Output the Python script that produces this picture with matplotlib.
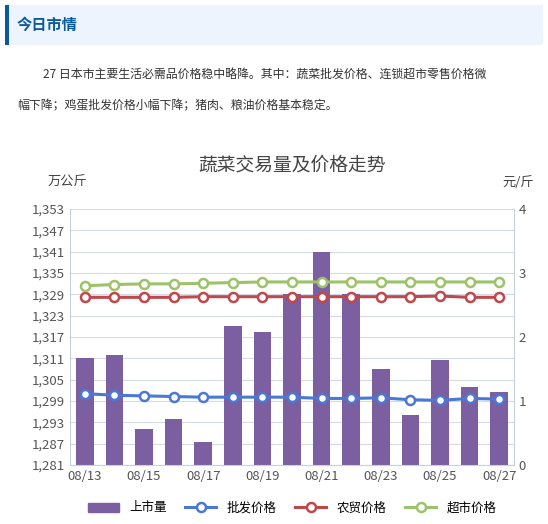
import numpy as np
import matplotlib.pyplot as plt
from matplotlib.patches import Rectangle

plt.rcParams['font.family'] = ['Noto Sans CJK SC', 'DejaVu Sans']

dates = ['08/13', '08/14', '08/15', '08/16', '08/17', '08/18', '08/19', '08/20',
         '08/21', '08/22', '08/23', '08/24', '08/25', '08/26', '08/27']
volume = [1311, 1312, 1291, 1294, 1287.5, 1320, 1318.5, 1329, 1341, 1329,
          1308, 1295, 1310.5, 1303, 1301.5]
wholesale = [1.115, 1.09, 1.08, 1.07, 1.06, 1.06, 1.06, 1.06, 1.04, 1.04,
             1.05, 1.02, 1.01, 1.04, 1.03]
farm = [2.62, 2.62, 2.62, 2.62, 2.63, 2.63, 2.63, 2.63, 2.63, 2.63,
        2.63, 2.63, 2.64, 2.62, 2.62]
market = [2.80, 2.82, 2.83, 2.83, 2.84, 2.85, 2.86, 2.86, 2.86, 2.86,
          2.86, 2.86, 2.86, 2.86, 2.86]
left_ticks = list(range(1281, 1354, 6))

W, H = 548, 524
fig = plt.figure(figsize=(W / 100, H / 100), dpi=100)

# header block
fig.patches.append(Rectangle((5 / W, 1 - 45 / H), 538 / W, 40 / H, transform=fig.transFigure,
                             facecolor='#eef4fd', edgecolor='none'))
fig.patches.append(Rectangle((5 / W, 1 - 45 / H), 4 / W, 40 / H, transform=fig.transFigure,
                             facecolor='#0c5a9e', edgecolor='none'))
fig.text(17 / W, 1 - 25 / H, '今日市情', fontsize=11, fontweight='bold', color='#0c5a9e', va='center')
fig.text(43 / W, 1 - 75 / H, '27 日本市主要生活必需品价格稳中略降。其中：蔬菜批发价格、连锁超市零售价格微',
         fontsize=8.6, color='#333333', va='center')
fig.text(17 / W, 1 - 106 / H, '幅下降；鸡蛋批发价格小幅下降；猪肉、粮油价格基本稳定。',
         fontsize=8.6, color='#333333', va='center')

ax = fig.add_axes([70 / W, 1 - 465 / H, 444 / W, 256 / H])
x = np.arange(len(dates))
ax.bar(x, volume, width=0.6, color='#7b5fa0', bottom=0, zorder=2)
ax.set_ylim(1281, 1353)
ax.set_yticks(left_ticks)
ax.set_yticklabels([f'{v:,}' for v in left_ticks])
ax.set_xlim(-0.5, len(dates) - 0.5)
ax.set_xticks(x[::2])
ax.set_xticklabels(dates[::2])
ax.grid(axis='y', color='#d5dbe6', lw=0.8, zorder=0)
for s in ['top', 'right', 'left']:
    ax.spines[s].set_visible(False)
ax.spines['bottom'].set_color('#c8d0dc')
ax.tick_params(length=0, labelsize=9.5, colors='#555555')

ax2 = ax.twinx()
ax2.set_ylim(0, 4)
ax2.set_yticks([0, 1, 2, 3, 4])
for s in ['top', 'left', 'bottom']:
    ax2.spines[s].set_visible(False)
ax2.spines['right'].set_color('#c8d0dc')
ax2.tick_params(length=0, labelsize=9.5, colors='#555555')
ax.axvline(-0.5, color='#c8d0dc', lw=0.8)

kw = dict(lw=2.2, marker='o', ms=6.5, markerfacecolor='white', markeredgewidth=1.8)
ax2.plot(x, wholesale, color='#4a78d4', **kw, label='批发价格')
ax2.plot(x, farm, color='#c0474a', **kw, label='农贸价格')
ax2.plot(x, market, color='#9cc36a', **kw, label='超市价格')

fig.text(292 / W, 1 - 165 / H, '蔬菜交易量及价格走势', fontsize=13.5, color='#444444', ha='center', va='center')
fig.text(48 / W, 1 - 182 / H, '万公斤', fontsize=9.5, color='#444444', va='center')
fig.text(518 / W, 1 - 182 / H, '元/斤', fontsize=9.5, color='#444444', ha='center', va='center')

bar_h = Rectangle((0, 0), 1, 1, color='#7b5fa0')
lines = ax2.get_lines()
fig.legend([bar_h] + lines, ['上市量'] + [l.get_label() for l in lines], loc='center',
           bbox_to_anchor=(292 / W, 1 - 508 / H), ncol=4, frameon=False, fontsize=9,
           handlelength=2.5, columnspacing=1.5)

fig.savefig('out.png', dpi=100)
